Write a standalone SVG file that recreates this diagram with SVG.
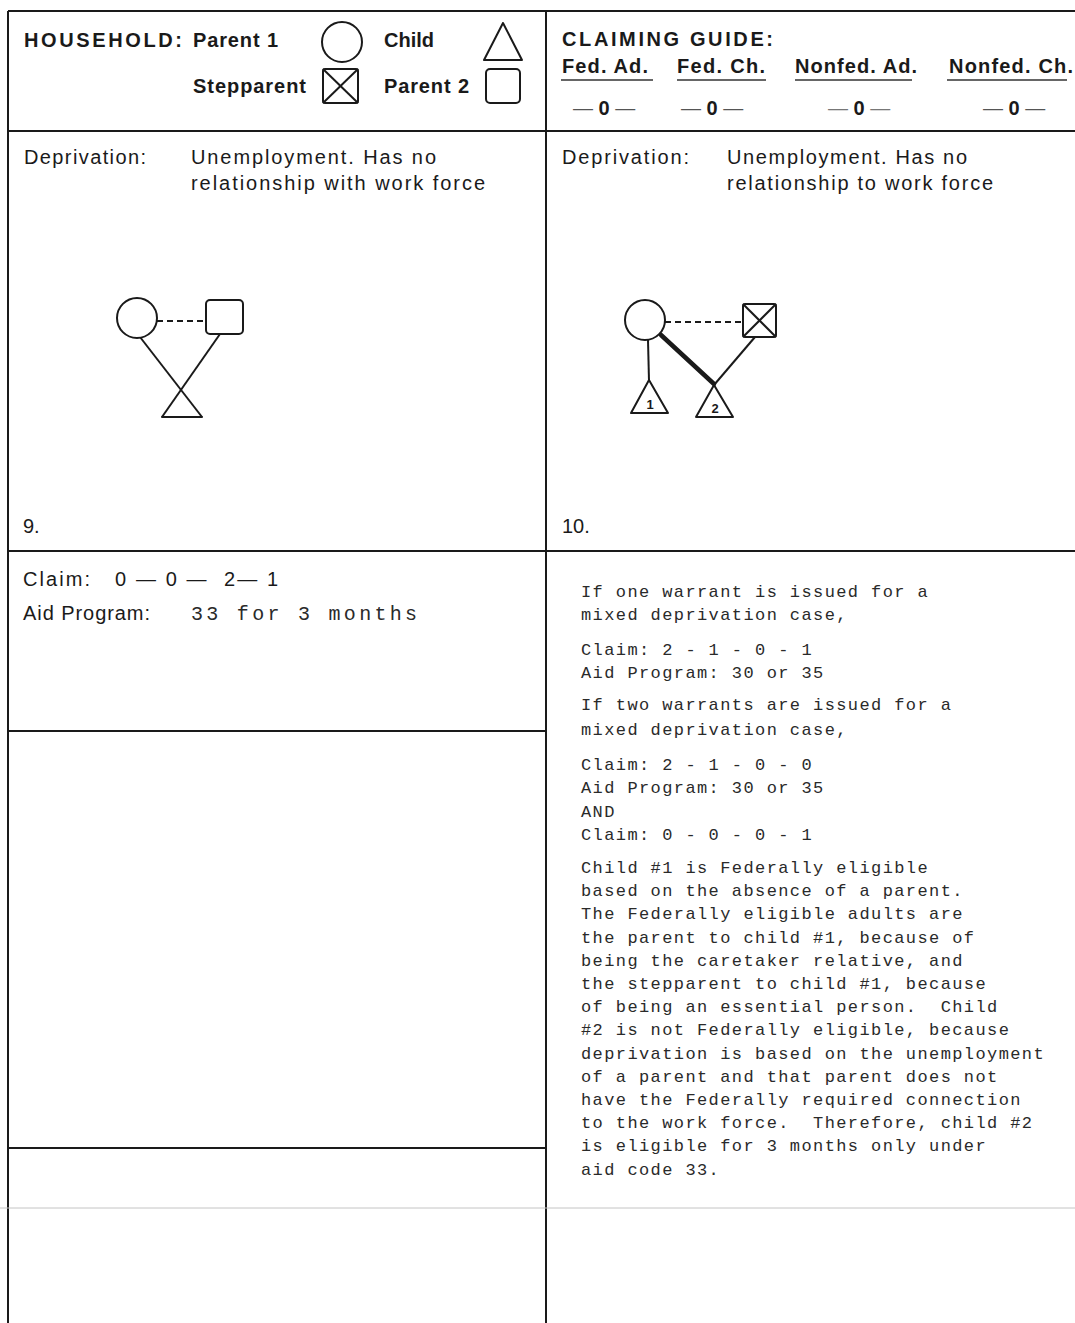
<svg xmlns="http://www.w3.org/2000/svg" width="1075" height="1323" viewBox="0 0 1075 1323">
<style>
.grid{stroke:#1a1a1a;stroke-width:2;fill:none}
.thin{stroke:#c4c4c4;stroke-width:1;fill:none}
.shape{stroke:#1a1a1a;stroke-width:2;fill:#fff}
.ln{stroke:#1a1a1a;stroke-width:2;fill:none}
.dash{stroke:#1a1a1a;stroke-width:2;stroke-dasharray:6,4;fill:none}
.hb{font-family:"Liberation Sans",Arial,sans-serif;font-weight:bold;font-size:20px;fill:#1a1a1a}
.hr{font-family:"Liberation Sans",Arial,sans-serif;font-size:20px;fill:#1a1a1a}
.mono{font-family:"Liberation Mono","Courier New",monospace;font-size:17px;letter-spacing:1.4px;fill:#2a2a2a;white-space:pre}
.mono-big{font-family:"Liberation Mono","Courier New",monospace;font-size:20px;fill:#2a2a2a;white-space:pre}
.num{font-family:"Liberation Sans",Arial,sans-serif;font-size:13px;font-weight:bold;fill:#1a1a1a}
.ul{stroke:#333;stroke-width:1.6}
</style>
<rect width="1075" height="1323" fill="#fff"/>
<g id="grid">
<line class="grid" x1="8" y1="11" x2="1075" y2="11"/>
<line class="grid" x1="8" y1="11" x2="8" y2="1323"/>
<line class="grid" x1="546" y1="11" x2="546" y2="1323"/>
<line class="grid" x1="8" y1="131" x2="1075" y2="131"/>
<line class="grid" x1="8" y1="551" x2="1075" y2="551"/>
<line class="grid" x1="8" y1="731" x2="546" y2="731"/>
<line class="grid" x1="8" y1="1148" x2="546" y2="1148"/>
<line class="thin" x1="0" y1="1208" x2="1075" y2="1208"/>
</g>
<g id="legend">
<text class="hb" x="24" y="47" textLength="158" lengthAdjust="spacing">HOUSEHOLD:</text>
<text class="hb" x="193" y="47" textLength="85" lengthAdjust="spacing">Parent 1</text>
<g id="legend-parent1"><circle class="shape" cx="342" cy="42" r="20"/></g>
<text class="hb" x="384" y="47" textLength="50" lengthAdjust="spacing">Child</text>
<g id="legend-child"><polygon class="shape" points="503,23 484,60 522,60" stroke-linejoin="round"/></g>
<text class="hb" x="193" y="93" textLength="113" lengthAdjust="spacing">Stepparent</text>
<g id="legend-stepparent"><rect class="shape" x="323" y="69" width="35" height="34" rx="2"/><line class="ln" x1="323" y1="69" x2="358" y2="103"/><line class="ln" x1="358" y1="69" x2="323" y2="103"/></g>
<text class="hb" x="384" y="93" textLength="85" lengthAdjust="spacing">Parent 2</text>
<g id="legend-parent2"><rect class="shape" x="486" y="69" width="34" height="34" rx="4"/></g>
</g>
<g id="claiming-guide">
<text class="hb" x="562" y="46" textLength="211" lengthAdjust="spacing">CLAIMING GUIDE:</text>
<text class="hb" x="562" y="73" textLength="86" lengthAdjust="spacing">Fed. Ad.</text>
<text class="hb" x="677" y="73" textLength="88" lengthAdjust="spacing">Fed. Ch.</text>
<text class="hb" x="795" y="73" textLength="122" lengthAdjust="spacing">Nonfed. Ad.</text>
<text class="hb" x="949" y="73" textLength="124" lengthAdjust="spacing">Nonfed. Ch.</text>
<line class="ul" x1="561" y1="80" x2="653" y2="80"/>
<line class="ul" x1="677" y1="80" x2="766" y2="80"/>
<line class="ul" x1="795" y1="80" x2="912" y2="80"/>
<line class="ul" x1="947" y1="80" x2="1067" y2="80"/>
<text class="hb" x="604" y="115" text-anchor="middle" xml:space="preserve"><tspan font-weight="normal" fill="#555">—</tspan> 0 <tspan font-weight="normal" fill="#555">—</tspan></text>
<text class="hb" x="712" y="115" text-anchor="middle" xml:space="preserve"><tspan font-weight="normal" fill="#555">—</tspan> 0 <tspan font-weight="normal" fill="#555">—</tspan></text>
<text class="hb" x="859" y="115" text-anchor="middle" xml:space="preserve"><tspan font-weight="normal" fill="#777">—</tspan> 0 <tspan font-weight="normal" fill="#777">—</tspan></text>
<text class="hb" x="1014" y="115" text-anchor="middle" xml:space="preserve"><tspan font-weight="normal" fill="#555">—</tspan> 0 <tspan font-weight="normal" fill="#555">—</tspan></text>
</g>
<g id="case9-text">
<text class="hr" x="24" y="164" textLength="122" lengthAdjust="spacing">Deprivation:</text>
<text class="hr" x="191" y="164" textLength="245" lengthAdjust="spacing">Unemployment. Has no</text>
<text class="hr" x="191" y="190" textLength="294" lengthAdjust="spacing">relationship with work force</text>
<text class="hr" x="23" y="533">9.</text>
</g>
<g id="case10-text">
<text class="hr" x="562" y="164" textLength="127" lengthAdjust="spacing">Deprivation:</text>
<text class="hr" x="727" y="164" textLength="240" lengthAdjust="spacing">Unemployment. Has no</text>
<text class="hr" x="727" y="190" textLength="266" lengthAdjust="spacing">relationship to work force</text>
<text class="hr" x="562" y="533">10.</text>
</g>
<g id="connectors">
<line class="dash" x1="157" y1="321" x2="206" y2="321"/>
<line class="ln" x1="140" y1="337" x2="202" y2="417"/>
<line class="ln" x1="220" y1="334" x2="162" y2="417"/>
<line class="dash" x1="665" y1="322" x2="743" y2="322"/>
<line class="ln" x1="648" y1="340" x2="649" y2="381"/>
<line stroke="#1a1a1a" stroke-width="4.5" stroke-linecap="round" x1="661" y1="335" x2="714" y2="384"/>
<line class="ln" x1="755" y1="337" x2="714" y2="385"/>
</g>
<g id="case9-parent1"><circle class="shape" cx="137" cy="318" r="20"/></g>
<g id="case9-parent2"><rect class="shape" x="206" y="300" width="37" height="34" rx="4"/></g>
<g id="case9-child"><polyline class="ln" points="162,417 202,417" stroke-linecap="round"/></g>
<g id="case10-parent1"><circle class="shape" cx="645" cy="320" r="20"/></g>
<g id="case10-stepparent"><rect class="shape" x="743" y="304" width="33" height="33" rx="2"/><line class="ln" x1="743" y1="304" x2="776" y2="337"/><line class="ln" x1="776" y1="304" x2="743" y2="337"/></g>
<g id="case10-child1"><polygon class="shape" points="649,380 631,413 668,413" stroke-linejoin="round"/><text class="num" x="650" y="409" text-anchor="middle">1</text></g>
<g id="case10-child2"><polygon class="shape" points="714,385 696,417 733,417" stroke-linejoin="round"/><text class="num" x="715" y="413" text-anchor="middle">2</text></g>
<g id="case9-claim">
<text class="hr" x="23" y="586" textLength="67" lengthAdjust="spacing">Claim:</text>
<text class="hr" x="115" y="586" textLength="163" lengthAdjust="spacing" xml:space="preserve">0 — 0 —  2— 1</text>
<text class="hr" x="23" y="620" textLength="127" lengthAdjust="spacing">Aid Program:</text>
<text class="mono-big" x="191" y="620" textLength="226" lengthAdjust="spacing">33 for 3 months</text>
</g>
<g id="case10-claim">
<text class="mono" x="581" y="597">If one warrant is issued for a</text>
<text class="mono" x="581" y="620">mixed deprivation case,</text>
<text class="mono" x="581" y="655">Claim: 2 - 1 - 0 - 1</text>
<text class="mono" x="581" y="678">Aid Program: 30 or 35</text>
<text class="mono" x="581" y="710">If two warrants are issued for a</text>
<text class="mono" x="581" y="735">mixed deprivation case,</text>
<text class="mono" x="581" y="770">Claim: 2 - 1 - 0 - 0</text>
<text class="mono" x="581" y="793">Aid Program: 30 or 35</text>
<text class="mono" x="581" y="817">AND</text>
<text class="mono" x="581" y="840">Claim: 0 - 0 - 0 - 1</text>
<text class="mono" x="581" y="873">Child #1 is Federally eligible</text>
<text class="mono" x="581" y="896">based on the absence of a parent.</text>
<text class="mono" x="581" y="919">The Federally eligible adults are</text>
<text class="mono" x="581" y="943">the parent to child #1, because of</text>
<text class="mono" x="581" y="966">being the caretaker relative, and</text>
<text class="mono" x="581" y="989">the stepparent to child #1, because</text>
<text class="mono" x="581" y="1012">of being an essential person.  Child</text>
<text class="mono" x="581" y="1035">#2 is not Federally eligible, because</text>
<text class="mono" x="581" y="1059">deprivation is based on the unemployment</text>
<text class="mono" x="581" y="1082">of a parent and that parent does not</text>
<text class="mono" x="581" y="1105">have the Federally required connection</text>
<text class="mono" x="581" y="1128">to the work force.  Therefore, child #2</text>
<text class="mono" x="581" y="1151">is eligible for 3 months only under</text>
<text class="mono" x="581" y="1175">aid code 33.</text>
</g>
</svg>
